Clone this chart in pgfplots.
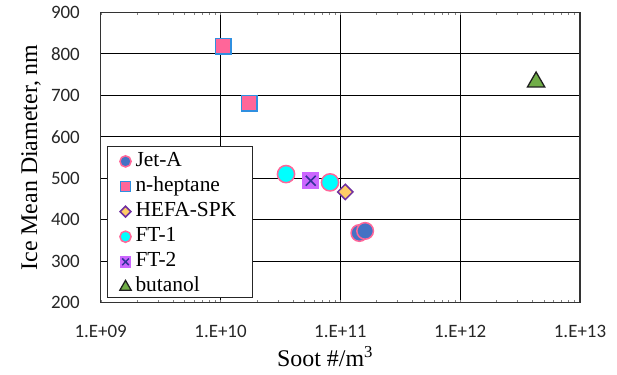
\documentclass[border=0pt]{standalone}
\usepackage{fontspec}
\setmainfont{Liberation Serif}
\newfontfamily\calibri{Carlito}
\usepackage{pgfplots}
\pgfplotsset{compat=1.18}
\definecolor{jetfill}{HTML}{4472C4}
\definecolor{pinkedge}{HTML}{FF6699}
\definecolor{hepfill}{HTML}{FF6699}
\definecolor{hepedge}{HTML}{2F8FE0}
\definecolor{hefafill}{HTML}{FFCC66}
\definecolor{hefaedge}{HTML}{7030A0}
\definecolor{ftfill}{HTML}{00FFFF}
\definecolor{fttwofill}{HTML}{CC66FF}
\definecolor{fttwox}{HTML}{333399}
\definecolor{butfill}{HTML}{70AD47}
\definecolor{butedge}{HTML}{1F1F1F}
\pgfplotsset{limg/.style={legend image code/.code={\path[draw=none,fill=none] (0bp,0bp)--(22.3bp,0bp); \draw[##1] plot coordinates {(12.3bp,-2bp)};}}}
\begin{document}
\begin{tikzpicture}
\begin{axis}[
  scale only axis, width=479.3bp, height=290.4bp,
  at={(0,0)}, anchor=south west,
  xmode=log, xmin=1e9, xmax=1e13,
  xtick={1e9,1e10,1e11,1e12,1e13},
  xticklabels={1.E+09,1.E+10,1.E+11,1.E+12,1.E+13},
  ymin=200, ymax=900, ytick={200,300,400,500,600,700,800,900},
  /pgf/number format/assume math mode=true,
  major tick length=0pt,
  xmajorgrids, ymajorgrids,
  grid style={black, line width=1.2bp},
  axis line style={black!80, line width=1.5bp},
  tick label style={font=\calibri\fontsize{19}{22}\selectfont, text=black!85, inner sep=0pt},
  yticklabel style={anchor=east, xshift=-20.7bp},
  xticklabel style={anchor=base, yshift=-34.3bp},
  every axis x label/.style={at={(axis description cs:0.4681,-0.2204)}, anchor=base, font=\fontsize{24}{28}\selectfont},
  every axis y label/.style={at={(axis description cs:-0.1329,0.5)}, rotate=90, anchor=base, font=\fontsize{24}{28}\selectfont},
  xlabel={Soot \#/m\textsuperscript{3}},
  ylabel={Ice Mean Diameter, nm},
  legend cell align=left,
  legend style={at={(rel axis cs:0,0)}, anchor=south west, xshift=6bp, yshift=4.4bp,
    draw=black!85, line width=1bp, fill=white,
    inner xsep=6bp, inner ysep=1.5bp, row sep=2.3bp,
    font=\fontsize{21.5}{25}\selectfont,
    nodes={inner sep=0pt, text height=18bp, text depth=4.8bp}},
]
% data
\addplot[forget plot, only marks, mark=*, mark size=8.3bp, line width=1.5bp, draw=pinkedge, fill=jetfill]
  coordinates {(1.44e11,368) (1.61e11,373)};
\addplot[forget plot, only marks, mark=square*, mark size=7.8bp, line width=1.5bp, draw=hepedge, fill=hepfill]
  coordinates {(1.05e10,818) (1.74e10,681)};
\addplot[forget plot, only marks, mark=*, mark size=8.6bp, line width=1.5bp, draw=pinkedge, fill=ftfill]
  coordinates {(3.52e10,510) (8.2e10,490)};
\addplot[forget plot, only marks, mark=square*, mark size=8bp, line width=1bp, draw=fttwofill, fill=fttwofill]
  coordinates {(5.66e10,494)};
\addplot[forget plot, only marks, mark=x, mark size=7bp, line width=1.6bp, draw=fttwox]
  coordinates {(5.66e10,494)};
\addplot[forget plot, only marks, mark=square*, mark size=5.4bp, mark options={rotate=45}, line width=1.5bp, draw=hefaedge, fill=hefafill]
  coordinates {(1.10e11,467)};
\addplot[forget plot, only marks, mark=triangle*, mark size=10bp, line width=1.3bp, draw=butedge, fill=butfill]
  coordinates {(4.3e12,732)};
% legend
\addlegendimage{mark=*, mark size=5.6bp, line width=1.5bp, draw=pinkedge, fill=jetfill, limg}
\addlegendentry{Jet-A}
\addlegendimage{mark=square*, mark size=5.2bp, line width=1.5bp, draw=hepedge, fill=hepfill, limg}
\addlegendentry{n-heptane}
\addlegendimage{mark=square*, mark size=3.8bp, mark options={rotate=45}, line width=1.5bp, draw=hefaedge, fill=hefafill, limg}
\addlegendentry{HEFA-SPK\rule{10bp}{0pt}}
\addlegendimage{mark=*, mark size=5.6bp, line width=1.5bp, draw=pinkedge, fill=ftfill, limg}
\addlegendentry{FT-1}
\addlegendimage{legend image code/.code={\path[draw=none,fill=none] (0bp,0bp)--(22.3bp,0bp);
  \draw[fill=fttwofill, draw=fttwofill, line width=1bp] plot[mark=square*, mark size=5.3bp] coordinates {(12.3bp,-2bp)};
  \draw[draw=fttwox, line width=1.5bp] plot[mark=x, mark size=4.7bp] coordinates {(12.3bp,-2bp)};}}
\addlegendentry{FT-2}
\addlegendimage{mark=triangle*, mark size=6.5bp, line width=1.3bp, draw=butedge, fill=butfill, limg}
\addlegendentry{butanol}
\end{axis}
\pgfresetboundingbox
\path (-100.7bp,-72.3bp) rectangle (516.3bp,302.7bp);
\end{tikzpicture}
\end{document}
